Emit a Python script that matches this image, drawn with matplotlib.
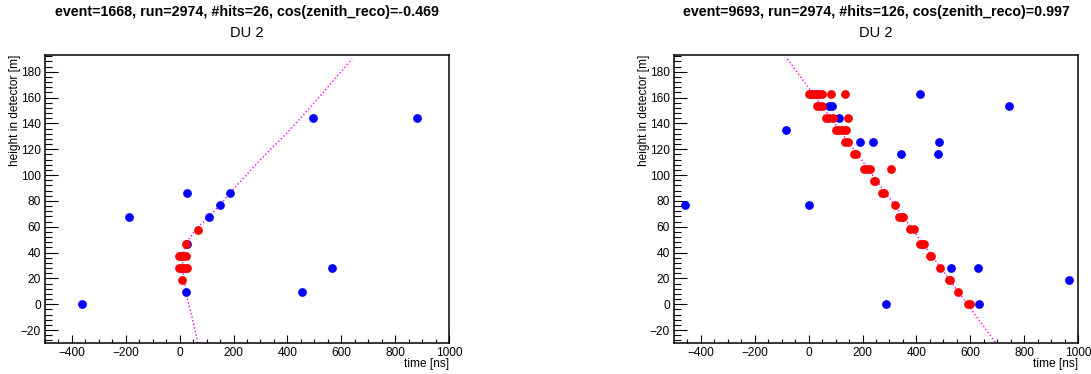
import matplotlib.pyplot as plt
from matplotlib.ticker import MultipleLocator

plt.rcParams['font.family'] = ['Liberation Sans', 'DejaVu Sans']

# event 1668 -- all hits (t [ns], z [m])
ev1_all_t = [-364, -188, 28, 186, 151, 110, 27, 25, 453, 567, 496, 880]
ev1_all_z = [0, 67.6, 86.2, 86.2, 76.7, 67.6, 46.6, 9.6, 9.6, 28, 144.3, 144.3]
# event 1668 -- triggered hits
ev1_trig_t = [69, 23, -3, 4, 14, 22, -4, 5, 14, 22, 28, 8]
ev1_trig_z = [57.8, 46.6, 37, 37, 37, 37, 28, 28, 28, 28, 28, 18.4]
# event 1668 -- fitted track arrival curve
ev1_fit_t = [68, 46, 30, 22, 15, 11, 12, 22, 60, 110, 150, 190, 300, 400, 500, 640]
ev1_fit_z = [-30, -10, 3, 12, 20, 28, 37, 47, 58, 68, 77, 87, 112, 133, 156, 190]

# event 9693 -- all hits
ev2_all_t = [-459, -84, 0, 288, 74, 88, 113, 190, 240, 342, 415, 479, 483,
             744, 527, 628, 634, 965]
ev2_all_z = [76.7, 135, 76.7, 0, 153.3, 153.3, 144.5, 125.6, 125.6, 116, 163,
             116, 125.6, 153.3, 28, 28, 0, 18.4]
# event 9693 -- triggered hits
ev2_trig_t = [0, 8, 16, 24, 32, 40, 48, 84, 136,
              32, 40, 50,
              65, 75, 90, 145,
              100, 110, 120, 130, 140,
              135, 146,
              170, 175,
              206, 215, 226, 307,
              241, 248,
              272, 280,
              319,
              337, 345, 352,
              378, 390,
              414, 422, 430,
              450, 456,
              489,
              521, 525,
              553,
              592, 598]
ev2_trig_z = [163] * 9 + [153.3] * 3 + [144.5] * 4 + [135] * 5 + [125.6] * 2 \
    + [116] * 2 + [105] * 4 + [95.6] * 2 + [86.5] * 2 + [76.7] + [67.6] * 3 \
    + [58] * 2 + [47] * 3 + [37.5] * 2 + [28] + [18.4] * 2 + [9.6] + [0] * 2
ev2_fit_t = [-79, 285, 695]
ev2_fit_z = [190, 86.5, -30]

titles = ["event=1668, run=2974, #hits=26, cos(zenith_reco)=-0.469",
          "event=9693, run=2974, #hits=126, cos(zenith_reco)=0.997"]

W, H = 1091, 374
fig = plt.figure(figsize=(W / 100, H / 100), dpi=100)

panels = [
    (45, ev1_all_t, ev1_all_z, ev1_trig_t, ev1_trig_z, ev1_fit_t, ev1_fit_z),
    (674, ev2_all_t, ev2_all_z, ev2_trig_t, ev2_trig_z, ev2_fit_t, ev2_fit_z),
]

for (x0, at, az, tt, tz, ft, fz), title in zip(panels, titles):
    ax = fig.add_axes([x0 / W, 1 - 343 / H, 404 / W, 288 / H])
    ax.plot(ft, fz, ls=':', color='#ff00ff', lw=1.0, zorder=1)
    ax.plot(at, az, 'o', color='#0000ff', ms=6.3, mew=0, zorder=2)
    ax.plot(tt, tz, 'o', color='#ff0000', ms=6.3, mew=0, zorder=3)

    ax.set_xlim(-500, 1000)
    ax.set_ylim(-30, 193)
    ax.xaxis.set_major_locator(MultipleLocator(200))
    ax.xaxis.set_minor_locator(MultipleLocator(50))
    ax.yaxis.set_major_locator(MultipleLocator(20))
    ax.yaxis.set_minor_locator(MultipleLocator(4))
    ax.tick_params(which='both', direction='in', top=False, right=False,
                   labelsize=8.6, width=0.8, pad=3)
    ax.tick_params(axis='x', which='major', length=6)
    ax.tick_params(axis='x', which='minor', length=3)
    ax.tick_params(axis='y', which='major', length=9.4)
    ax.tick_params(axis='y', which='minor', length=4.8)
    for s in ax.spines.values():
        s.set_linewidth(1.1)

    ax.text(1.0, -0.072, "time [ns]", transform=ax.transAxes,
            ha='right', va='center', fontsize=8.6)
    ax.text(-0.074, 1.0, "height in detector [m]", transform=ax.transAxes,
            rotation=90, ha='center', va='top', fontsize=8.6)

    xc = (x0 + 202) / W
    fig.text(xc, 1 - 12 / H, title, ha='center', va='center',
             fontsize=10.3, fontweight='bold')
    fig.text(xc, 1 - 33 / H, "DU 2", ha='center', va='center', fontsize=10.5)

fig.savefig("out.png", dpi=100)
